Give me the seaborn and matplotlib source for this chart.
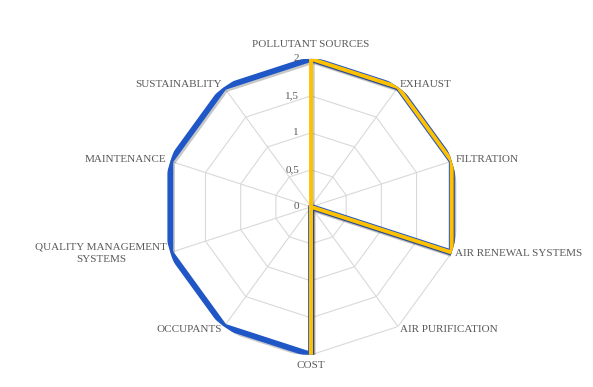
import numpy as np
import pandas as pd
import matplotlib.pyplot as plt
import matplotlib.patheffects as pe
from matplotlib.transforms import offset_copy
import seaborn as sns

# data
categories = ["POLLUTANT SOURCES", "EXHAUST", "FILTRATION", "AIR RENEWAL SYSTEMS",
              "AIR PURIFICATION", "COST", "OCCUPANTS", "QUALITY MANAGEMENT\nSYSTEMS",
              "MAINTENANCE", "SUSTAINABLITY"]
series_blue = [2, 2, 2, 2, 0, 2, 2, 2, 2, 2]
series_yellow = [2, 2, 2, 2, 0, 2, 0, 0, 0, 0]
r_ticks = [0, 0.5, 1, 1.5, 2]
r_tick_labels = ["0", "0,5", "1", "1,5", "2"]

sns.set_theme(style="white")
plt.rcParams['font.family'] = ['Liberation Serif', 'DejaVu Serif']

n = len(categories)
theta = np.arange(n) * 2 * np.pi / n
theta_closed = np.append(theta, theta[0])

fig = plt.figure(figsize=(5.93, 3.87), dpi=100)
ax = fig.add_axes([0.275, 0.083, 0.499, 0.765], projection="polar")
ax.set_theta_zero_location("N")
ax.set_theta_direction(-1)
ax.grid(False)
ax.spines["polar"].set_visible(False)
ax.patch.set_alpha(0)

grid_col = "#d9d9d9"
# polygon grid rings
for r in r_ticks[1:]:
    ax.plot(theta_closed, [r] * (n + 1), color=grid_col, lw=0.8, zorder=1)
# spokes
for t in theta:
    ax.plot([t, t], [0, 2], color=grid_col, lw=0.8, zorder=1)

shadow = [pe.SimpleLineShadow(offset=(1.2, -1.5), shadow_color="black", alpha=0.22), pe.Normal()]

df_blue = pd.DataFrame({"theta": theta_closed, "value": series_blue + series_blue[:1]})
df_yellow = pd.DataFrame({"theta": theta_closed, "value": series_yellow + series_yellow[:1]})

sns.lineplot(data=df_blue, x="theta", y="value", sort=False, estimator=None, ax=ax,
             color="#1f57c7", lw=4.2, zorder=3, path_effects=shadow)
sns.lineplot(data=df_yellow, x="theta", y="value", sort=False, estimator=None, ax=ax,
             color="#ffc000", lw=2.8, zorder=4, path_effects=shadow)
ax.set_xlabel("")
ax.set_ylabel("")
ax.set_xticks([])
ax.set_yticks([])
ax.set_ylim(0, 2)

txt_col = "#595959"
# radial tick labels left of the top spoke
trans = offset_copy(ax.transData, fig=fig, x=-12, y=0, units="dots")
for r, lab in zip(r_ticks, r_tick_labels):
    ax.text(0, r, lab, transform=trans, ha="right", va="center", fontsize=8, color=txt_col)

# category labels
for t, lab in zip(theta, categories):
    s = np.sin(t)
    c = np.cos(t)
    if abs(s) < 0.01:
        ha = "center"
        rr = 2.19 if c > 0 else 2.15
    else:
        ha = "left" if s > 0 else "right"
        rr = 2.05
    ax.text(t, rr, lab, ha=ha, va="center", fontsize=8, color=txt_col,
            multialignment="center", linespacing=1.5)

fig.savefig("out.png", dpi=100)
